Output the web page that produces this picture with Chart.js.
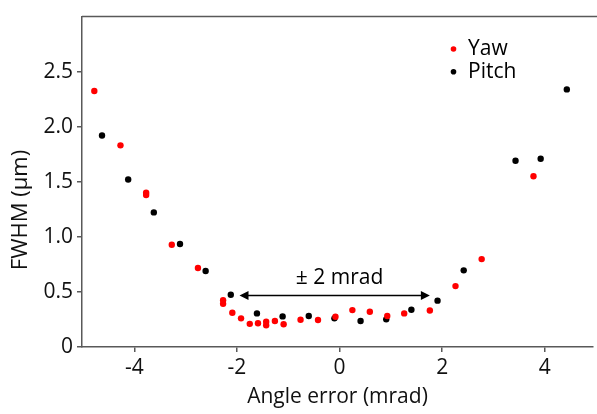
<!DOCTYPE html>
<html>
<head>
<meta charset="utf-8">
<script src="https://cdn.jsdelivr.net/npm/chart.js@4/dist/chart.umd.min.js"></script>
<style>
  html, body { margin: 0; padding: 0; background: #fff; }
  #wrap { width: 597px; height: 414px; position: relative; }
</style>
</head>
<body>
<div id="wrap"><canvas id="c" width="597" height="414"></canvas></div>
<script>
// ---- Data ----
const yawX   = [-4.78, -4.27, -3.77, -3.77, -3.27, -2.76, -2.27, -2.27, -2.09, -1.92, -1.75, -1.59, -1.43, -1.43, -1.26, -1.09, -0.76, -0.42, -0.08, 0.25, 0.59, 0.93, 1.26, 1.76, 2.26, 2.77, 3.78];
const yawY   = [2.324, 1.831, 1.40, 1.38, 0.929, 0.717, 0.425, 0.392, 0.311, 0.260, 0.210, 0.215, 0.230, 0.197, 0.236, 0.206, 0.248, 0.245, 0.275, 0.335, 0.320, 0.281, 0.305, 0.332, 0.553, 0.798, 1.550];
const pitchX = [-4.63, -4.12, -3.62, -3.11, -2.61, -2.12, -1.61, -1.11, -0.60, -0.10, 0.41, 0.91, 1.40, 1.91, 2.42, 3.43, 3.92, 4.43];
const pitchY = [1.921, 1.521, 1.222, 0.935, 0.690, 0.475, 0.305, 0.278, 0.281, 0.260, 0.236, 0.251, 0.338, 0.421, 0.696, 1.691, 1.709, 2.339];
const seriesNames = ['Yaw', 'Pitch'];
const xTicks = [-4, -2, 0, 2, 4];
const yTicks = [0, 0.5, 1.0, 1.5, 2.0, 2.5];
const yTickLabels = ['0', '0.5', '1.0', '1.5', '2.0', '2.5'];
const xTitle = 'Angle error (mrad)';
const yTitle = 'FWHM (\u00b5m)';
const arrowX = [-1.95, 1.76];
const arrowY = 0.468;
const arrowLabel = '\u00b1 2 mrad';
const arrowLabelPos = [0.0, 0.63];

const FONT = "'Open Sans', sans-serif";
const AXIS_COLOR = '#595959';

const toPts = (xs, ys) => xs.map((x, i) => ({x, y: ys[i]}));

const decor = {
  id: 'decor',
  afterDraw(chart) {
    const ctx = chart.ctx, ca = chart.chartArea;
    const xs = chart.scales.x, ys = chart.scales.y;
    ctx.save();
    // top border line
    ctx.strokeStyle = AXIS_COLOR; ctx.lineWidth = 1.5;
    ctx.beginPath(); ctx.moveTo(ca.left, ca.top); ctx.lineTo(chart.width, ca.top); ctx.stroke();

    // y title
    ctx.fillStyle = '#111';
    ctx.font = `22px ${FONT}`;
    ctx.textAlign = 'center'; ctx.textBaseline = 'middle';
    ctx.save();
    ctx.translate(21, 210); ctx.rotate(-Math.PI / 2);
    ctx.fillText(yTitle, 0, 0);
    ctx.restore();

    // arrow
    const x1 = xs.getPixelForValue(arrowX[0]), x2 = xs.getPixelForValue(arrowX[1]);
    const ay = ys.getPixelForValue(arrowY);
    ctx.strokeStyle = '#000'; ctx.fillStyle = '#000'; ctx.lineWidth = 1.5;
    ctx.beginPath(); ctx.moveTo(x1 + 6, ay); ctx.lineTo(x2 - 6, ay); ctx.stroke();
    const head = (tx, dir) => {
      ctx.beginPath();
      ctx.moveTo(tx, ay);
      ctx.lineTo(tx + dir * 9, ay - 4.5);
      ctx.lineTo(tx + dir * 9, ay + 4.5);
      ctx.closePath(); ctx.fill();
    };
    head(x1, 1); head(x2, -1);
    ctx.font = `21px ${FONT}`;
    ctx.fillStyle = '#000';
    ctx.textAlign = 'center'; ctx.textBaseline = 'middle';
    ctx.fillText(arrowLabel, xs.getPixelForValue(arrowLabelPos[0]), ys.getPixelForValue(arrowLabelPos[1]));

    // legend
    const colors = chart.data.datasets.map(d => d.backgroundColor);
    chart.data.datasets.forEach((d, i) => {
      const ly = 49 + i * 22.7;
      ctx.fillStyle = colors[i];
      ctx.beginPath(); ctx.arc(453.5, ly, 2.8, 0, Math.PI * 2); ctx.fill();
      ctx.fillStyle = '#000';
      ctx.font = `21px ${FONT}`;
      ctx.textAlign = 'left'; ctx.textBaseline = 'middle';
      ctx.fillText(d.label, 468, ly);
    });
    ctx.restore();
  }
};

new Chart(document.getElementById('c'), {
  type: 'scatter',
  data: {
    datasets: [
      { label: seriesNames[0], data: toPts(yawX, yawY), backgroundColor: '#ff0000', borderColor: '#ff0000', pointRadius: 3.2, borderWidth: 0 },
      { label: seriesNames[1], data: toPts(pitchX, pitchY), backgroundColor: '#000000', borderColor: '#000000', pointRadius: 3.2, borderWidth: 0 }
    ]
  },
  options: {
    responsive: false,
    animation: false,
    devicePixelRatio: 1,
    layout: { padding: { top: 12, right: 0, left: 0, bottom: 0 } },
    plugins: { legend: { display: false }, tooltip: { enabled: false } },
    scales: {
      x: {
        type: 'linear', min: -5.02, max: 4.94,
        afterBuildTicks: (s) => { s.ticks = xTicks.map(v => ({value: v})); },
        afterFit: (s) => { s.height = 67; },
        grid: { drawOnChartArea: false, drawTicks: true, tickLength: 5, color: AXIS_COLOR, lineWidth: 1.5 },
        border: { display: true, color: AXIS_COLOR, width: 1.5 },
        ticks: { color: '#111', font: { family: FONT, size: 21 }, padding: 3, maxRotation: 0,
                 callback: (v) => String(v) },
        title: { display: true, text: xTitle, color: '#111', font: { family: FONT, size: 21 }, padding: { top: 0 } }
      },
      y: {
        type: 'linear', min: 0, max: 3,
        afterBuildTicks: (s) => { s.ticks = yTicks.map(v => ({value: v})); },
        afterFit: (s) => { s.width = 82; },
        grid: { drawOnChartArea: false, drawTicks: true, tickLength: 5, color: AXIS_COLOR, lineWidth: 1.5 },
        border: { display: true, color: AXIS_COLOR, width: 1.5 },
        ticks: { color: '#111', font: { family: FONT, size: 21 }, padding: 4,
                 callback: (v) => yTickLabels[yTicks.indexOf(v)] }
      }
    }
  },
  plugins: [decor]
});
</script>
</body>
</html>
